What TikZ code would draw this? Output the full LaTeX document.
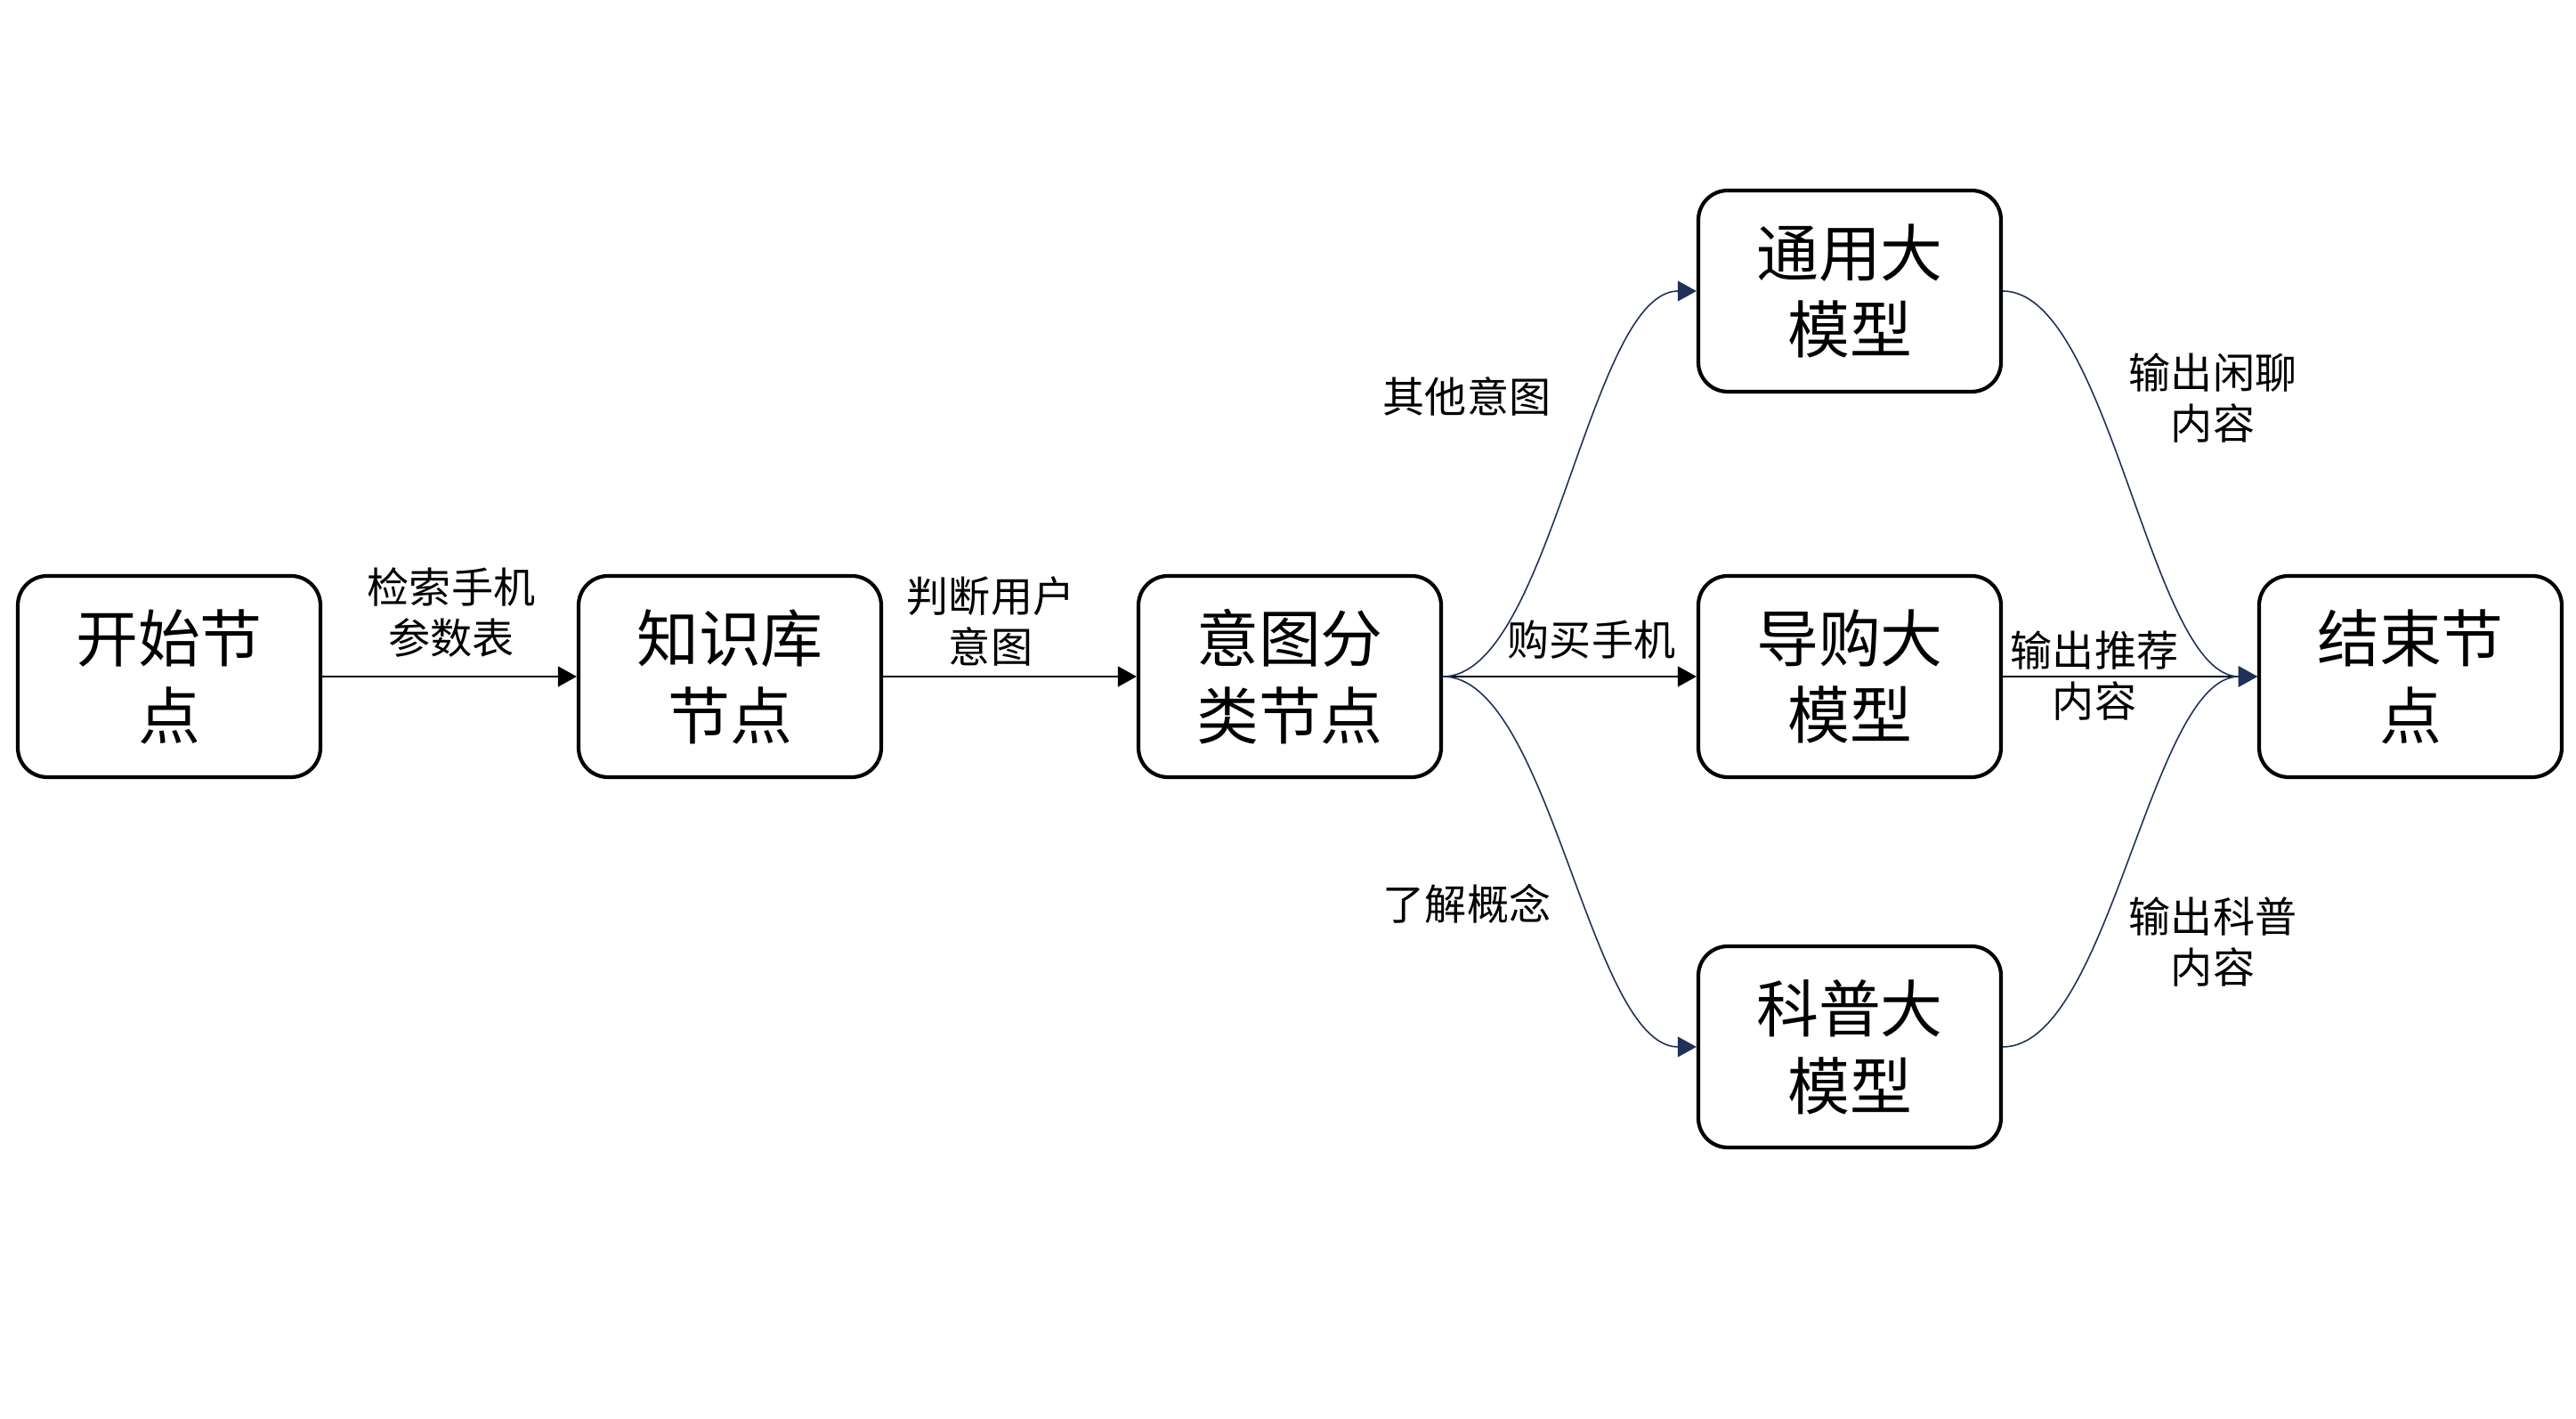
\documentclass[tikz,border=0pt]{standalone}
\usepackage{fontspec}
\newfontfamily\cjkfont{Noto Sans CJK SC}
\usetikzlibrary{arrows.meta}
\definecolor{branchnavy}{RGB}{31,49,89}

\begin{document}
\begin{tikzpicture}[
  stage/.style={draw=black, line width=1.2pt, rounded corners=0.33cm, minimum width=3.4cm,
    minimum height=2.26cm, align=center, font=\cjkfont\fontsize{19.9}{24.7}\selectfont},
  tag/.style={align=center, inner sep=0pt, font=\cjkfont\fontsize{13.4}{16.3}\selectfont},
  flow/.style={-{Triangle[length=6pt, width=6.5pt]}, line width=0.6pt, black},
  branch/.style={-{Triangle[length=6pt, width=6.5pt]}, line width=0.45pt, branchnavy}
]
  \useasboundingbox (0,0) rectangle (28.94,15.94);

  % main row
  \node[stage] (start)  at (1.90, 8.34)  {开始节\\点};
  \node[stage] (kb)     at (8.20, 8.34)  {知识库\\节点};
  \node[stage] (intent) at (14.49, 8.34) {意图分\\类节点};
  \node[stage] (shop)   at (20.78, 8.34) {导购大\\模型};
  \node[stage] (finish) at (27.08, 8.34) {结束节\\点};
  % other branches
  \node[stage] (general) at (20.78, 12.67) {通用大\\模型};
  \node[stage] (sci)     at (20.78, 4.18)  {科普大\\模型};

  % labels
  \node[tag] (tRetrieve) at (5.07, 9.06)  {检索手机\\参数表};
  \node[tag] (tJudge)    at (11.13, 8.96) {判断用户\\意图};
  \node[tag] (tBuy)      at (17.88, 8.75) {购买手机};
  \node[tag] (tOther)    at (16.48, 11.49) {其他意图};
  \node[tag] (tLearn)    at (16.48, 5.79)  {了解概念};
  \node[tag] (tChat)     at (24.86, 11.47) {输出闲聊\\内容};
  \node[tag] (tRecommend) at (23.53, 8.35) {输出推荐\\内容};
  \node[tag] (tScience)  at (24.86, 5.36)  {输出科普\\内容};

  \draw[flow] (start) -- (kb);
  \draw[flow] (kb) -- (intent);
  \draw[flow] (intent) -- (shop);
  \draw[flow] (shop) -- (finish);

  \draw[branch] (intent.east) .. controls +(1.2,0) and +(-1.2,0) .. (general.west);
  \draw[branch] (intent.east) .. controls +(1.2,0) and +(-1.2,0) .. (sci.west);
  \draw[branch] (general.east) .. controls +(1.2,0) and +(-1.2,0) .. (finish.west);
  \draw[branch] (sci.east) .. controls +(1.2,0) and +(-1.2,0) .. (finish.west);
\end{tikzpicture}
\end{document}
